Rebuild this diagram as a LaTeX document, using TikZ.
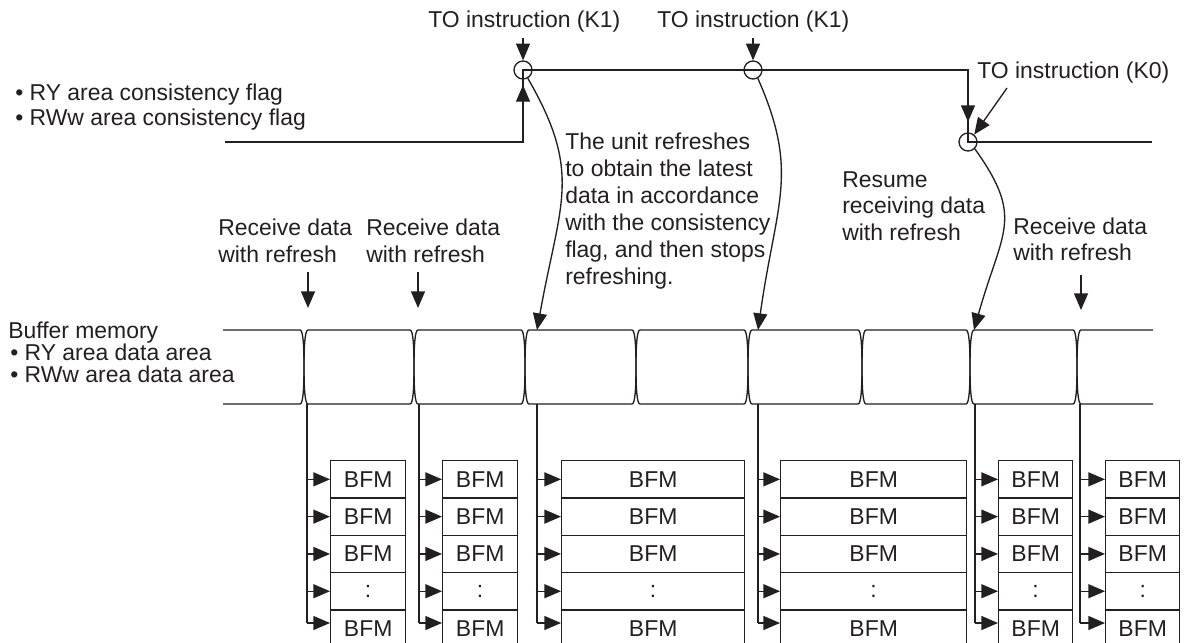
\documentclass[tikz,border=0pt]{standalone}
\usepackage{fontspec}
\setmainfont{Liberation Sans}
\usetikzlibrary{arrows.meta}
\definecolor{ink}{HTML}{231F20}
\begin{document}
\begin{tikzpicture}[x=0.75pt,y=-0.75pt,
  every node/.style={inner sep=0pt, text=ink, font=\fontsize{17.2}{20}\selectfont},
  lbl/.style={anchor=base west},
  ln/.style={draw=ink, line width=1pt},
  arr/.style={ln, -{Triangle[length=12.5pt,width=10.5pt]}},
  circ/.style={draw=ink, line width=1pt, circle, minimum size=13.5pt},
  bfm/.style={draw=ink, line width=1pt, minimum height=28pt, anchor=north west},
]
\useasboundingbox (0,0) rectangle (1187,642);

% ---- texts ----
\node[lbl] (to1) at (428,28) {TO instruction (K1)};
\node[lbl] (to2) at (657,28) {TO instruction (K1)};
\node[lbl] (to3) at (977,79) {TO instruction (K0)};
\node[lbl] (fa) at (15,100) {• RY area consistency flag};
\node[lbl] (fb) at (15,125) {• RWw area consistency flag};

\node[lbl] (m1) at (565,149) {The unit refreshes};
\node[lbl] (m2) at (565,176) {to obtain the latest};
\node[lbl] (m3) at (565,203) {data in accordance};
\node[lbl] (m4) at (565,230) {with the consistency};
\node[lbl] (m5) at (565,257) {flag, and then stops};
\node[lbl] (m6) at (565,284) {refreshing.};

\node[lbl] (r1) at (842,187) {Resume};
\node[lbl] (r2) at (842,213) {receiving data};
\node[lbl] (r3) at (842,240) {with refresh};

\node[lbl] (ra) at (218,235) {Receive data};
\node[lbl] (rb) at (218,262) {with refresh};
\node[lbl] (rc) at (366,235) {Receive data};
\node[lbl] (rd) at (366,262) {with refresh};
\node[lbl] (re) at (1013,234) {Receive data};
\node[lbl] (rf) at (1013,260) {with refresh};

\node[lbl] (bm1) at (8,338) {Buffer memory};
\node[lbl] (bm2) at (10,360) {• RY area data area};
\node[lbl] (bm3) at (10,382) {• RWw area data area};

% ---- consistency flag signal ----
\coordinate (fl0) at (225,142);
\coordinate (fl1) at (523,142);
\coordinate (c3hi) at (968,70);
\coordinate (fr) at (1152,142);
\node[circ] (c1) at (523,70) {};
\node[circ] (c2) at (753,70) {};
\node[circ] (c3) at (968,142) {};
\draw[ln] (fl0) -- (fl1) -- (c1.center) -- (c3hi) -- (c3.center) -- (fr);

% arrows onto circles
\coordinate (a1s) at (523,38);
\coordinate (a2s) at (753,38);
\draw[arr] (a1s) -- (c1.north);
\draw[arr] (a2s) -- (c2.north);
\coordinate (upT) at (523,85);
\draw[arr] (fl1) -- (upT);
\coordinate (c3a) at (968,122);
\draw[arr] (c3hi) -- (c3a);
\coordinate (k0s) at (1007,88);
\draw[arr] (k0s) -- (c3.50);

% ---- buffer memory cells ----
\draw[ln] (223,330) -- (300,330) .. controls (303,330) and (304,345) .. (304,367)
  .. controls (304,389) and (303,404) .. (300,404) -- (223,404);
\foreach \xl/\xr in {304/414, 414/525, 525/636, 636/748, 748/862, 862/970, 970/1077}{
  \draw[ln] (\xl+4,330) -- (\xr-4,330) .. controls (\xr-1,330) and (\xr,345) .. (\xr,367)
    .. controls (\xr,389) and (\xr-1,404) .. (\xr-4,404) -- (\xl+4,404)
    .. controls (\xl+1,404) and (\xl,389) .. (\xl,367)
    .. controls (\xl,345) and (\xl+1,330) .. cycle;
}
\draw[ln] (1153,330) -- (1081,330) .. controls (1078,330) and (1077,345) .. (1077,367)
  .. controls (1077,389) and (1078,404) .. (1081,404) -- (1153,404);

% receive-data arrows
\coordinate (rs1) at (308,272); \coordinate (rt1) at (308,308);
\coordinate (rs2) at (418,272); \coordinate (rt2) at (418,308);
\coordinate (rs3) at (1081,275); \coordinate (rt3) at (1081,310);
\draw[arr] (rs1) -- (rt1);
\draw[arr] (rs2) -- (rt2);
\draw[arr] (rs3) -- (rt3);

% curved arrows from circles to buffer
\coordinate (t1) at (537,330);
\coordinate (t2) at (758,330);
\coordinate (t3) at (974,330);
\draw[arr] (c1.-60) .. controls +(55,95) and +(23,-128) .. (t1);
\draw[arr] (c2.-60) .. controls +(42,95) and +(18,-128) .. (t2);
\draw[arr] (c3.-45) .. controls +(50,70) and +(28,-100) .. (t3);

% ---- BFM columns ----
\foreach \c/\lx/\bx/\w in {1/307/330/75, 2/419/442/75, 3/537/561/183, 4/758/780/186, 5/975/998/74, 6/1080/1105/74}{
  \foreach \r/\t in {1/BFM,2/BFM,3/BFM,4/{:},5/BFM}{
    \node[bfm, minimum width=\w*0.75pt] (b\c-\r) at (\bx,{460+(\r-1)*37.3}) {\t};
  }
  \coordinate (v\c) at (\lx,404);
  \coordinate (w\c) at (\lx,623);
  \draw[ln] (v\c) -- (w\c);
  \foreach \r in {1,...,4}{
    \draw[arr] (v\c |- b\c-\r.west) -- (b\c-\r.west);
  }
  \draw[arr] (w\c) -- (w\c -| b\c-5.west);
}
\end{tikzpicture}
\end{document}
